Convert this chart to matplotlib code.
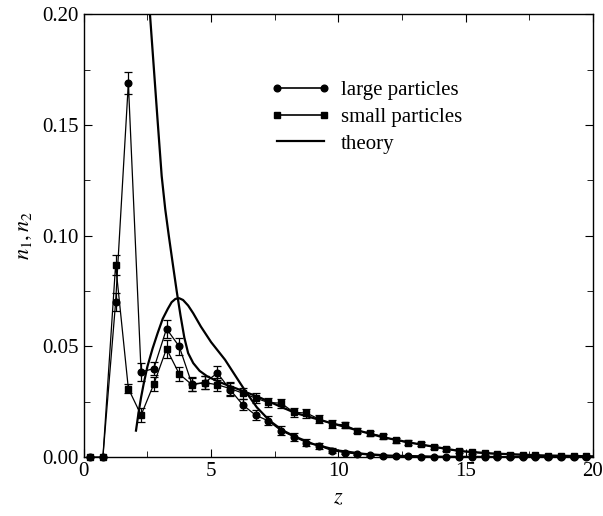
import numpy as np
import matplotlib
matplotlib.use("Agg")
import matplotlib.pyplot as plt
from matplotlib.ticker import MultipleLocator, FormatStrFormatter
from matplotlib.lines import Line2D

plt.rcParams['font.family'] = ['Liberation Serif', 'DejaVu Serif']
plt.rcParams['mathtext.fontset'] = 'stix'

# sample heights (bin centres)
z = [0.25 + 0.5 * k for k in range(40)]

# large particles n1
n_large = [0.0, 0.0, 0.070, 0.169, 0.0385, 0.040, 0.058, 0.050, 0.033, 0.0337,
           0.038, 0.0305, 0.0236, 0.019, 0.0164, 0.012, 0.0093, 0.0066, 0.0051, 0.0030,
           0.0021, 0.0014, 0.0010, 0.0006, 0.0005, 0.0004, 0.0003, 0.0002, 0.0002, 0.0001,
           0.0001, 0.0001, 0.0, 0.0, 0.0, 0.0, 0.0, 0.0, 0.0, 0.0]
err_large = [0.0, 0.0, 0.004, 0.005, 0.004, 0.003, 0.004, 0.004, 0.003, 0.003,
             0.003, 0.003, 0.0025, 0.0022, 0.002, 0.002, 0.0018, 0.0015, 0.0012, 0.001,
             0.0008, 0.0006, 0.0005, 0.0004, 0.0003, 0.0003, 0.0002, 0.0002, 0.0002, 0.0002,
             0.0002, 0.0002, 0.0002, 0.0002, 0.0002, 0.0002, 0.0002, 0.0002, 0.0002, 0.0002]

# small particles n2
n_small = [0.0, 0.0, 0.087, 0.031, 0.019, 0.033, 0.049, 0.0376, 0.0327, 0.0337,
           0.0327, 0.031, 0.0289, 0.0267, 0.0247, 0.0244, 0.0203, 0.0199, 0.0172, 0.0150,
           0.0146, 0.0120, 0.0108, 0.0094, 0.0076, 0.0066, 0.0059, 0.0045, 0.0036, 0.0028,
           0.0022, 0.0018, 0.0015, 0.0012, 0.0010, 0.0008, 0.0007, 0.0006, 0.0005, 0.0005]
err_small = [0.0, 0.0, 0.0045, 0.002, 0.003, 0.003, 0.004, 0.003, 0.003, 0.003,
             0.003, 0.003, 0.0025, 0.0022, 0.002, 0.002, 0.002, 0.002, 0.0018, 0.0016,
             0.0015, 0.0013, 0.0012, 0.0012, 0.0011, 0.001, 0.001, 0.0009, 0.0008, 0.0008,
             0.0007, 0.0006, 0.0006, 0.0005, 0.0005, 0.0005, 0.0004, 0.0004, 0.0004, 0.0004]

# theory curves
z_th_large = [2.05, 2.15, 2.25, 2.35, 2.5, 2.7, 2.9, 3.1, 3.3, 3.45, 3.6, 3.75, 3.9,
              4.1, 4.3, 4.6, 5.0, 5.55, 6.0, 6.34, 6.8, 7.3, 7.8, 8.3, 9.0, 10.0,
              11.0, 12.0, 14.0, 16.0, 20.0]
n_th_large = [0.012, 0.020, 0.027, 0.033, 0.041, 0.049, 0.056, 0.0625, 0.067, 0.0700,
              0.0715, 0.0718, 0.0710, 0.0685, 0.065, 0.059, 0.052, 0.044, 0.036, 0.030,
              0.0225, 0.0165, 0.0122, 0.0093, 0.006, 0.003, 0.0015, 0.0007, 0.0002,
              0.0001, 0.0]

z_th_small = [2.6, 2.75, 2.9, 3.06, 3.2, 3.34, 3.5, 3.65, 3.8, 3.95, 4.1, 4.3, 4.55,
              4.85, 5.22, 5.6, 6.0, 6.9, 8.3, 10.0, 11.75, 13.0, 14.75, 16.0, 18.0, 20.0]
n_th_small = [0.20, 0.176, 0.152, 0.127, 0.112, 0.100, 0.087, 0.075, 0.064, 0.054,
              0.047, 0.0425, 0.039, 0.0365, 0.0345, 0.0327, 0.031, 0.027, 0.020, 0.0145,
              0.009, 0.0062, 0.0028, 0.0017, 0.0008, 0.0004]

fig = plt.figure(figsize=(6.03, 5.16), dpi=100)
ax = fig.add_axes([0.139, 0.114, 0.844, 0.858])

ax.errorbar(z, n_large, yerr=err_large, fmt='-o', color='black', ms=4.8, lw=0.9,
            elinewidth=0.9, capsize=3, capthick=0.9, clip_on=False, zorder=3)
ax.errorbar(z, n_small, yerr=err_small, fmt='-s', color='black', ms=4.2, lw=0.9,
            elinewidth=0.9, capsize=3, capthick=0.9, clip_on=False, zorder=3)
ax.plot(z_th_large, n_th_large, color='black', lw=1.6, zorder=2)
ax.plot(z_th_small, n_th_small, color='black', lw=1.6, zorder=2)

ax.set_xlim(0, 20)
ax.set_ylim(0, 0.20)
ax.xaxis.set_major_locator(MultipleLocator(5))
ax.xaxis.set_minor_locator(MultipleLocator(2.5))
ax.yaxis.set_major_locator(MultipleLocator(0.05))
ax.yaxis.set_minor_locator(MultipleLocator(0.025))
ax.yaxis.set_major_formatter(FormatStrFormatter('%.2f'))
ax.tick_params(which='both', direction='in', top=True, right=True, labelsize=15)
ax.tick_params(which='major', length=6)
ax.tick_params(which='minor', length=4)
for s in ax.spines.values():
    s.set_linewidth(1.0)

ax.set_xlabel('$z$', fontsize=16, labelpad=6)
ax.set_ylabel('$n_1,n_2$', fontsize=16, labelpad=6)

handles = [Line2D([], [], color='black', marker='o', ms=4.8, lw=1.2),
           Line2D([], [], color='black', marker='s', ms=4.2, lw=1.2),
           Line2D([], [], color='black', lw=1.6)]
labels = ['large particles', 'small particles', 'theory']
ax.legend(handles, labels, loc='upper left', bbox_to_anchor=(0.351, 0.87),
          frameon=False, fontsize=15, numpoints=2, handlelength=2.85,
          handletextpad=0.5, labelspacing=0.35, borderaxespad=0.0)

fig.savefig('out.png', dpi=100)
